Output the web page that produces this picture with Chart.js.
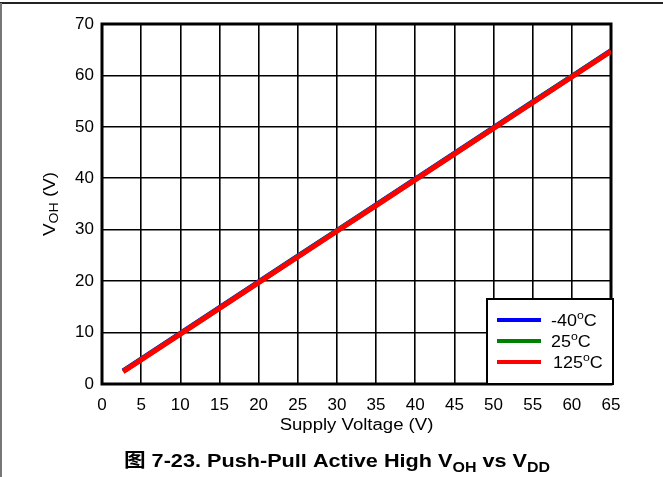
<!DOCTYPE html>
<html>
<head>
<meta charset="utf-8">
<script src="https://cdn.jsdelivr.net/npm/chart.js@4"></script>
<style>
  html, body { margin: 0; padding: 0; background: #fff; }
  #wrap { width: 663px; height: 477px; }
</style>
</head>
<body>
<div id="wrap"><canvas id="vohChart" width="663" height="477"></canvas></div>
<script>
let supplyVoltage = [2.7, 5, 10, 15, 20, 25, 30, 35, 40, 45, 50, 55, 60, 65]
let vohCold = [2.55, 4.85, 9.85, 14.85, 19.86, 24.85, 29.85, 34.86, 39.85, 44.85, 49.84, 54.85, 59.84, 64.84]
let vohRoom = [2.45, 4.76, 9.76, 14.75, 19.76, 24.75, 29.76, 34.75, 39.75, 44.76, 49.75, 54.75, 59.75, 64.74]
let vohHot = [2.4, 4.7, 9.7, 14.7, 19.7, 24.7, 29.7, 34.7, 39.69, 44.7, 49.7, 54.69, 59.7, 64.69]
let seriesLabels = ['-40', '25', '125']
let seriesColors = ['#0000FF', '#008000', '#FF0000']

const FONT = 'Arial, "Liberation Sans", "Noto Sans CJK SC", sans-serif'

function toPoints(xs, ys) {
  return xs.map((x, i) => ({ x: x, y: ys[i] }))
}

// draws text pieces in a row (sub/superscripts via dy), stretched by sx
function drawRich(ctx, parts, x, y, align, sx) {
  sx = sx || 1
  let total = 0
  parts.forEach(p => {
    ctx.font = p.font
    total += ctx.measureText(p.text).width
  })
  ctx.save()
  ctx.translate(x, y)
  ctx.scale(sx, 1)
  let cx = align === 'center' ? -total / 2 : 0
  ctx.textAlign = 'left'
  parts.forEach(p => {
    ctx.font = p.font
    ctx.fillText(p.text, cx, p.dy || 0)
    cx += ctx.measureText(p.text).width
  })
  ctx.restore()
}

const decorations = {
  id: 'decorations',
  beforeDraw(chart) {
    const ctx = chart.ctx
    ctx.save()
    ctx.fillStyle = '#fff'
    ctx.fillRect(0, 0, chart.width, chart.height)
    // page frame
    ctx.strokeStyle = '#222'
    ctx.lineWidth = 2
    ctx.beginPath()
    ctx.moveTo(0, 3)
    ctx.lineTo(chart.width, 3)
    ctx.stroke()
    ctx.strokeStyle = '#777'
    ctx.beginPath()
    ctx.moveTo(1, 3)
    ctx.lineTo(1, chart.height)
    ctx.stroke()
    ctx.restore()
  },
  beforeDatasetsDraw(chart) {
    const ctx = chart.ctx
    const a = chart.chartArea
    ctx.save()
    ctx.strokeStyle = '#000'
    ctx.lineWidth = 3
    ctx.strokeRect(a.left, a.top, a.right - a.left, a.bottom - a.top)
    ctx.restore()
  },
  afterDraw(chart) {
    const ctx = chart.ctx
    const a = chart.chartArea
    ctx.save()
    ctx.fillStyle = '#000'
    ctx.textBaseline = 'alphabetic'

    // x title
    drawRich(ctx, [
      { text: 'Supply Voltage (V)', font: '16px ' + FONT }
    ], (a.left + a.right) / 2, 430, 'center', 1.16)

    // y title, rotated
    ctx.save()
    ctx.translate(55, (a.top + a.bottom) / 2)
    ctx.rotate(-Math.PI / 2)
    drawRich(ctx, [
      { text: 'V', font: '16px ' + FONT },
      { text: 'OH', font: '12px ' + FONT, dy: 3 },
      { text: ' (V)', font: '16px ' + FONT }
    ], 0, 0, 'center', 1.18)
    ctx.restore()

    // caption
    drawRich(ctx, [
      { text: '图 7-23. Push-Pull Active High V', font: 'bold 19px ' + FONT },
      { text: 'OH', font: 'bold 14px ' + FONT, dy: 5 },
      { text: ' vs V', font: 'bold 19px ' + FONT },
      { text: 'DD', font: 'bold 14px ' + FONT, dy: 5 }
    ], 337, 467, 'center', 1.14)

    // legend box in lower right corner
    const bx = 487, by = 299, bw = 126, bh = 85
    ctx.fillStyle = '#fff'
    ctx.fillRect(bx, by, bw, bh)
    ctx.strokeStyle = '#000'
    ctx.lineWidth = 2
    ctx.strokeRect(bx, by, bw, bh)
    chart.data.datasets.forEach((ds, i) => {
      const ly = 320 + i * 21
      ctx.strokeStyle = ds.borderColor
      ctx.lineWidth = 4
      ctx.beginPath()
      ctx.moveTo(497, ly)
      ctx.lineTo(541, ly)
      ctx.stroke()
      ctx.fillStyle = '#000'
      const tx = i === 2 ? 553 : 551
      drawRich(ctx, [
        { text: seriesLabels[i], font: '16px ' + FONT },
        { text: 'o', font: '11px ' + FONT, dy: -7 },
        { text: 'C', font: '16px ' + FONT }
      ], tx, ly + 6, 'left', 1.12)
    })
    ctx.restore()
  }
}

const tickFont = { family: FONT, size: 17 }

let vohChart = new Chart(document.querySelector('#vohChart'), {
  type: 'line',
  plugins: [decorations],
  data: {
    datasets: [{
      label: seriesLabels[0],
      data: toPoints(supplyVoltage, vohCold),
      borderColor: seriesColors[0],
      borderWidth: 5,
      pointRadius: 0,
      order: 3
    }, {
      label: seriesLabels[1],
      data: toPoints(supplyVoltage, vohRoom),
      borderColor: seriesColors[1],
      borderWidth: 5,
      pointRadius: 0,
      order: 2
    }, {
      label: seriesLabels[2],
      data: toPoints(supplyVoltage, vohHot),
      borderColor: seriesColors[2],
      borderWidth: 5,
      pointRadius: 0,
      order: 1
    }]
  },
  options: {
    responsive: false,
    animation: false,
    devicePixelRatio: 1,
    layout: {
      padding: {
        top: 24,
        right: 52,
        left: 0,
        bottom: 0
      }
    },
    scales: {
      x: {
        type: 'linear',
        min: 0,
        max: 65,
        border: {
          display: false
        },
        grid: {
          drawTicks: false,
          color: '#000',
          lineWidth: 1.6
        },
        ticks: {
          stepSize: 5,
          padding: 11,
          color: '#000',
          font: tickFont,
          maxRotation: 0
        },
        afterFit: function (scale) {
          scale.height = 93
        }
      },
      y: {
        min: 0,
        max: 70,
        border: {
          display: false
        },
        grid: {
          drawTicks: false,
          color: '#000',
          lineWidth: 1.6
        },
        ticks: {
          stepSize: 10,
          padding: 8,
          color: '#000',
          font: tickFont
        },
        afterFit: function (scale) {
          scale.width = 102
        }
      }
    },
    plugins: {
      legend: {
        display: false
      },
      tooltip: {
        enabled: false
      }
    }
  }
})
</script>
</body>
</html>
